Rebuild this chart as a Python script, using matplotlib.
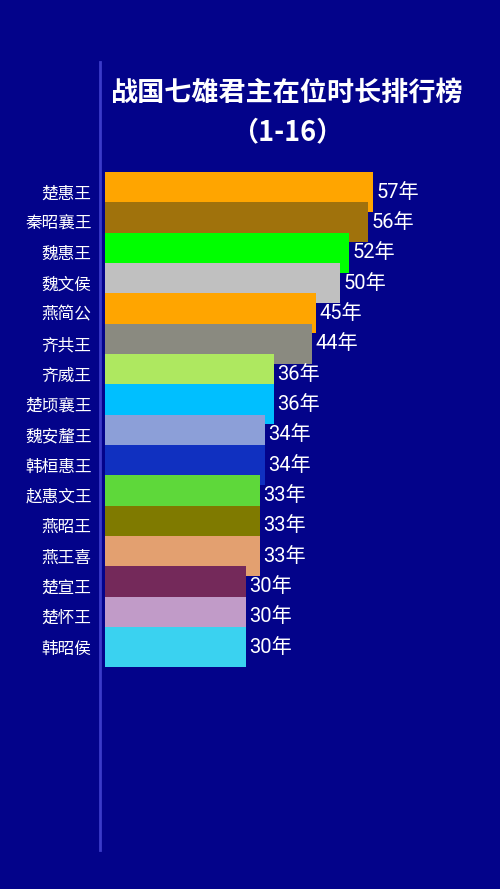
import matplotlib.pyplot as plt

plt.rcParams['font.family'] = ['Noto Sans CJK SC', 'DejaVu Sans']

# 君主与在位年数
names = ['楚惠王', '秦昭襄王', '魏惠王', '魏文侯', '燕简公', '齐共王', '齐威王', '楚顷襄王',
         '魏安釐王', '韩桓惠王', '赵惠文王', '燕昭王', '燕王喜', '楚宣王', '楚怀王', '韩昭侯']
years = [57, 56, 52, 50, 45, 44, 36, 36, 34, 34, 33, 33, 33, 30, 30, 30]
colors = ['#FFA500', '#A0720C', '#00FF00', '#C0C0C0', '#FFA500', '#8A8A80', '#AEE860', '#00BFFF',
          '#8C9FD8', '#1030C0', '#5ED83A', '#7F7A00', '#E3A070', '#74295A', '#C19BC8', '#3AD2F0']

bg = '#03038A'

fig = plt.figure(figsize=(5, 8.89), dpi=100, facecolor=bg)
ax = fig.add_axes([100 / 500, 39 / 889, 380 / 500, 788 / 889])
ax.set_facecolor(bg)

pos = list(range(len(names)))
ax.barh(pos, years, height=1.32, color=colors, linewidth=0)

for p, v in zip(pos, years):
    ax.text(v + 0.7, p, f'{v}年', color='white', fontsize=14.5, va='center', ha='left',
            family=['Roboto', 'Noto Sans CJK SC'])

ax.set_xlim(-1.064, 79.8)
ax.set_ylim(21.69, -4.286)

ax.set_yticks(pos)
ax.set_yticklabels(names, color='white', fontsize=12)
ax.tick_params(axis='y', length=0, pad=6)
ax.set_xticks([])

for s in ['top', 'right', 'bottom']:
    ax.spines[s].set_visible(False)
ax.spines['left'].set_color('#3B3BC8')
ax.spines['left'].set_linewidth(2)

fig.text(0.572, 1 - 93 / 889, '战国七雄君主在位时长排行榜', color='white', fontsize=19.5,
         fontweight='bold', ha='center', va='center')
fig.text(0.574, 1 - 132 / 889, '（1-16）', color='white', fontsize=19.5,
         fontweight='bold', ha='center', va='center')

fig.savefig('out.png', dpi=100, facecolor=bg)
